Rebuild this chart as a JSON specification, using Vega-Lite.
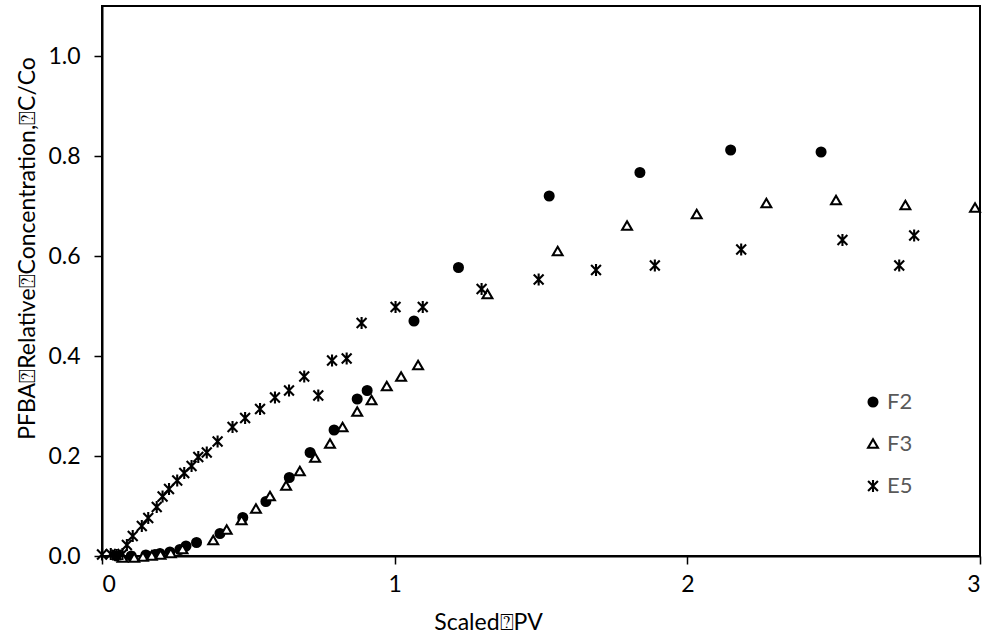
{
  "$schema": "https://vega.github.io/schema/vega-lite/v6.json",
  "width": 878,
  "height": 550,
  "autosize": "none",
  "padding": {"left": 102, "top": 6, "right": 11, "bottom": 84},
  "background": "white",
  "config": {
    "font": "Lato",
    "view": {"stroke": "black", "strokeWidth": 2},
    "axis": {"grid": false}
  },
  "data": {
    "values": [
      {"s": "F2", "x": 0.05, "y": 0.0},
      {"s": "F2", "x": 0.10, "y": 0.0},
      {"s": "F2", "x": 0.15, "y": 0.002},
      {"s": "F2", "x": 0.181, "y": 0.003},
      {"s": "F2", "x": 0.198, "y": 0.005},
      {"s": "F2", "x": 0.232, "y": 0.008},
      {"s": "F2", "x": 0.266, "y": 0.013},
      {"s": "F2", "x": 0.287, "y": 0.02},
      {"s": "F2", "x": 0.323, "y": 0.027},
      {"s": "F2", "x": 0.403, "y": 0.045},
      {"s": "F2", "x": 0.481, "y": 0.077},
      {"s": "F2", "x": 0.56, "y": 0.109},
      {"s": "F2", "x": 0.64, "y": 0.157},
      {"s": "F2", "x": 0.711, "y": 0.207},
      {"s": "F2", "x": 0.793, "y": 0.252},
      {"s": "F2", "x": 0.872, "y": 0.314},
      {"s": "F2", "x": 0.906, "y": 0.331},
      {"s": "F2", "x": 1.066, "y": 0.47},
      {"s": "F2", "x": 1.218, "y": 0.577},
      {"s": "F2", "x": 1.528, "y": 0.72},
      {"s": "F2", "x": 1.838, "y": 0.767},
      {"s": "F2", "x": 2.148, "y": 0.812},
      {"s": "F2", "x": 2.457, "y": 0.808},
      {"s": "F3", "x": 0.07, "y": -0.004},
      {"s": "F3", "x": 0.11, "y": -0.004},
      {"s": "F3", "x": 0.14, "y": -0.002},
      {"s": "F3", "x": 0.17, "y": 0.0},
      {"s": "F3", "x": 0.2, "y": 0.002},
      {"s": "F3", "x": 0.235, "y": 0.005},
      {"s": "F3", "x": 0.275, "y": 0.013},
      {"s": "F3", "x": 0.38, "y": 0.031},
      {"s": "F3", "x": 0.426, "y": 0.052},
      {"s": "F3", "x": 0.477, "y": 0.071},
      {"s": "F3", "x": 0.526, "y": 0.094},
      {"s": "F3", "x": 0.574, "y": 0.119},
      {"s": "F3", "x": 0.629, "y": 0.14},
      {"s": "F3", "x": 0.676, "y": 0.169},
      {"s": "F3", "x": 0.728, "y": 0.196},
      {"s": "F3", "x": 0.779, "y": 0.224},
      {"s": "F3", "x": 0.822, "y": 0.257},
      {"s": "F3", "x": 0.872, "y": 0.288},
      {"s": "F3", "x": 0.921, "y": 0.311},
      {"s": "F3", "x": 0.973, "y": 0.339},
      {"s": "F3", "x": 1.022, "y": 0.358},
      {"s": "F3", "x": 1.08, "y": 0.381},
      {"s": "F3", "x": 1.317, "y": 0.523},
      {"s": "F3", "x": 1.557, "y": 0.609},
      {"s": "F3", "x": 1.794, "y": 0.66},
      {"s": "F3", "x": 2.032, "y": 0.683},
      {"s": "F3", "x": 2.27, "y": 0.705},
      {"s": "F3", "x": 2.508, "y": 0.711},
      {"s": "F3", "x": 2.745, "y": 0.701},
      {"s": "F3", "x": 2.983, "y": 0.696},
      {"s": "E5", "x": 0.0, "y": 0.003},
      {"s": "E5", "x": 0.03, "y": 0.004},
      {"s": "E5", "x": 0.05, "y": 0.002},
      {"s": "E5", "x": 0.07, "y": 0.004},
      {"s": "E5", "x": 0.085, "y": 0.022},
      {"s": "E5", "x": 0.105, "y": 0.04},
      {"s": "E5", "x": 0.136, "y": 0.06},
      {"s": "E5", "x": 0.158, "y": 0.076},
      {"s": "E5", "x": 0.187, "y": 0.098},
      {"s": "E5", "x": 0.207, "y": 0.119},
      {"s": "E5", "x": 0.229, "y": 0.134},
      {"s": "E5", "x": 0.257, "y": 0.151},
      {"s": "E5", "x": 0.281, "y": 0.166},
      {"s": "E5", "x": 0.306, "y": 0.18},
      {"s": "E5", "x": 0.329, "y": 0.198},
      {"s": "E5", "x": 0.358, "y": 0.207},
      {"s": "E5", "x": 0.395, "y": 0.229},
      {"s": "E5", "x": 0.446, "y": 0.258},
      {"s": "E5", "x": 0.489, "y": 0.276},
      {"s": "E5", "x": 0.54, "y": 0.294},
      {"s": "E5", "x": 0.591, "y": 0.317},
      {"s": "E5", "x": 0.639, "y": 0.331},
      {"s": "E5", "x": 0.691, "y": 0.359},
      {"s": "E5", "x": 0.739, "y": 0.321},
      {"s": "E5", "x": 0.786, "y": 0.391},
      {"s": "E5", "x": 0.836, "y": 0.395},
      {"s": "E5", "x": 0.887, "y": 0.466},
      {"s": "E5", "x": 1.003, "y": 0.498},
      {"s": "E5", "x": 1.096, "y": 0.498},
      {"s": "E5", "x": 1.297, "y": 0.534},
      {"s": "E5", "x": 1.492, "y": 0.553},
      {"s": "E5", "x": 1.688, "y": 0.572},
      {"s": "E5", "x": 1.889, "y": 0.581},
      {"s": "E5", "x": 2.184, "y": 0.613},
      {"s": "E5", "x": 2.53, "y": 0.632},
      {"s": "E5", "x": 2.724, "y": 0.581},
      {"s": "E5", "x": 2.775, "y": 0.641}
    ]
  },
  "mark": {"type": "point", "strokeWidth": 2.1, "opacity": 1, "size": 80},
  "encoding": {
    "x": {
      "field": "x", "type": "quantitative",
      "scale": {"domain": [0, 3], "nice": false, "zero": false},
      "axis": {
        "values": [0, 1, 2, 3], "format": "d",
        "title": "Scaled\u2370PV",
        "domainColor": "black", "domainWidth": 2,
        "tickColor": "black", "tickWidth": 1.5, "tickSize": 8,
        "labelFontSize": 23, "labelColor": "black", "labelPadding": 9,
        "titleFontSize": 23, "titleFontWeight": "normal", "titleColor": "black",
        "titleX": 386, "titleY": 66, "titleAlign": "center", "titleBaseline": "middle"
      }
    },
    "y": {
      "field": "y", "type": "quantitative",
      "scale": {"domain": [0, 1.1], "nice": false, "zero": false},
      "axis": {
        "values": [0, 0.2, 0.4, 0.6, 0.8, 1.0], "format": ".1f",
        "title": "PFBA\u2370Relative\u2370Concentration,\u2370C/Co",
        "domainColor": "black", "domainWidth": 2,
        "tickColor": "black", "tickWidth": 1.5, "tickSize": 8,
        "labelFontSize": 23, "labelColor": "black", "labelPadding": 14,
        "titleFontSize": 23, "titleFontWeight": "normal", "titleColor": "black",
        "titleX": -75, "titleY": 242, "titleAlign": "center", "titleBaseline": "middle", "titleAngle": -90
      }
    },
    "shape": {
      "field": "s", "type": "nominal",
      "scale": {"domain": ["F2", "F3", "E5"], "range": ["circle", "M0,-1.05L1.1,0.85L-1.1,0.85Z", "M-1.1,-1.1L1.1,1.1M-1.1,1.1L1.1,-1.1M0,-1.35L0,1.35"]},
      "legend": {
        "title": null, "orient": "none", "legendX": 760, "legendY": 385,
        "labelFontSize": 22, "labelColor": "#595959", "labelOffset": 3,
        "rowPadding": 20, "padding": 0, "symbolSize": 80,
        "symbolStrokeWidth": 2.1
      }
    },
    "fill": {
      "field": "s", "type": "nominal",
      "scale": {"domain": ["F2", "F3", "E5"], "range": ["black", "white", "transparent"]}
    },
    "stroke": {
      "field": "s", "type": "nominal",
      "scale": {"domain": ["F2", "F3", "E5"], "range": ["black", "black", "black"]}
    }
  }
}
